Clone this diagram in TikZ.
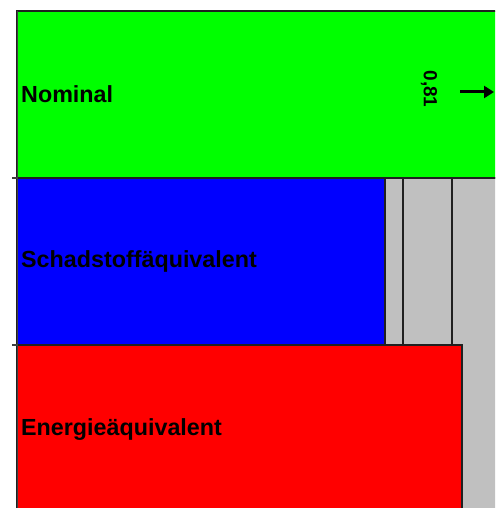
\documentclass[tikz,border=0pt]{standalone}
\usepackage{fontspec}
\setmainfont{Liberation Sans}
\usetikzlibrary{arrows.meta}
\definecolor{barG}{HTML}{00FF00}
\definecolor{barB}{HTML}{0000FF}
\definecolor{barR}{HTML}{FF0000}
\definecolor{barGray}{HTML}{C0C0C0}
\definecolor{edge}{HTML}{202020}
\begin{document}
\begin{tikzpicture}[x=1pt,y=-1pt,
  bar/.style={draw=edge,line width=1.6pt},
  lbl/.style={anchor=west,inner sep=0pt,font=\bfseries\fontsize{23.3}{26}\selectfont},
  axisline/.style={draw=black!75,line width=1.4pt}]
\useasboundingbox (0,0) rectangle (495,508);
\fill[white] (0,0) rectangle (495,508);
\begin{scope}
\clip (0,0) rectangle (495,508);
% gray stacked remainder
\fill[barGray] (385,178) rectangle (500,512);
\draw[bar,fill=barGray] (385,178) rectangle (403,345);
\draw[bar,fill=barGray] (403,178) rectangle (452,345);
\draw[bar] (452,345) -- (452,178) -- (505,178);
% bars
\draw[bar,fill=barG] (17,11) rectangle (505,178);
\draw[bar,fill=barB] (17,178) rectangle (385,345);
\draw[bar,fill=barR] (17,345) rectangle (462,515);
% axis
\coordinate (atop) at (17.3,11);
\coordinate (abot) at (17.3,510);
\draw[axisline] (atop) -- (abot);
\coordinate (t1a) at (12,178); \coordinate (t1b) at (17.3,178);
\coordinate (t2a) at (12,345); \coordinate (t2b) at (17.3,345);
\draw[axisline] (t1a) -- (t1b);
\draw[axisline] (t2a) -- (t2b);
\end{scope}
% labels
\node[lbl] (nom) at (21,94) {Nominal};
\node[lbl] (sch) at (21,261) {Schadstoffäquivalent};
\node[lbl] (ene) at (21,430) {Energieäquivalent};
\node[rotate=-90,inner sep=0pt,font=\bfseries\fontsize{19}{22}\selectfont] (val) at (429,89) {0,81};
\coordinate (arrS) at (460,92);
\coordinate (arrE) at (494,92);
\draw[line width=3pt,-{Triangle[length=10pt,width=12pt]}] (arrS) -- (arrE);
\end{tikzpicture}
\end{document}
